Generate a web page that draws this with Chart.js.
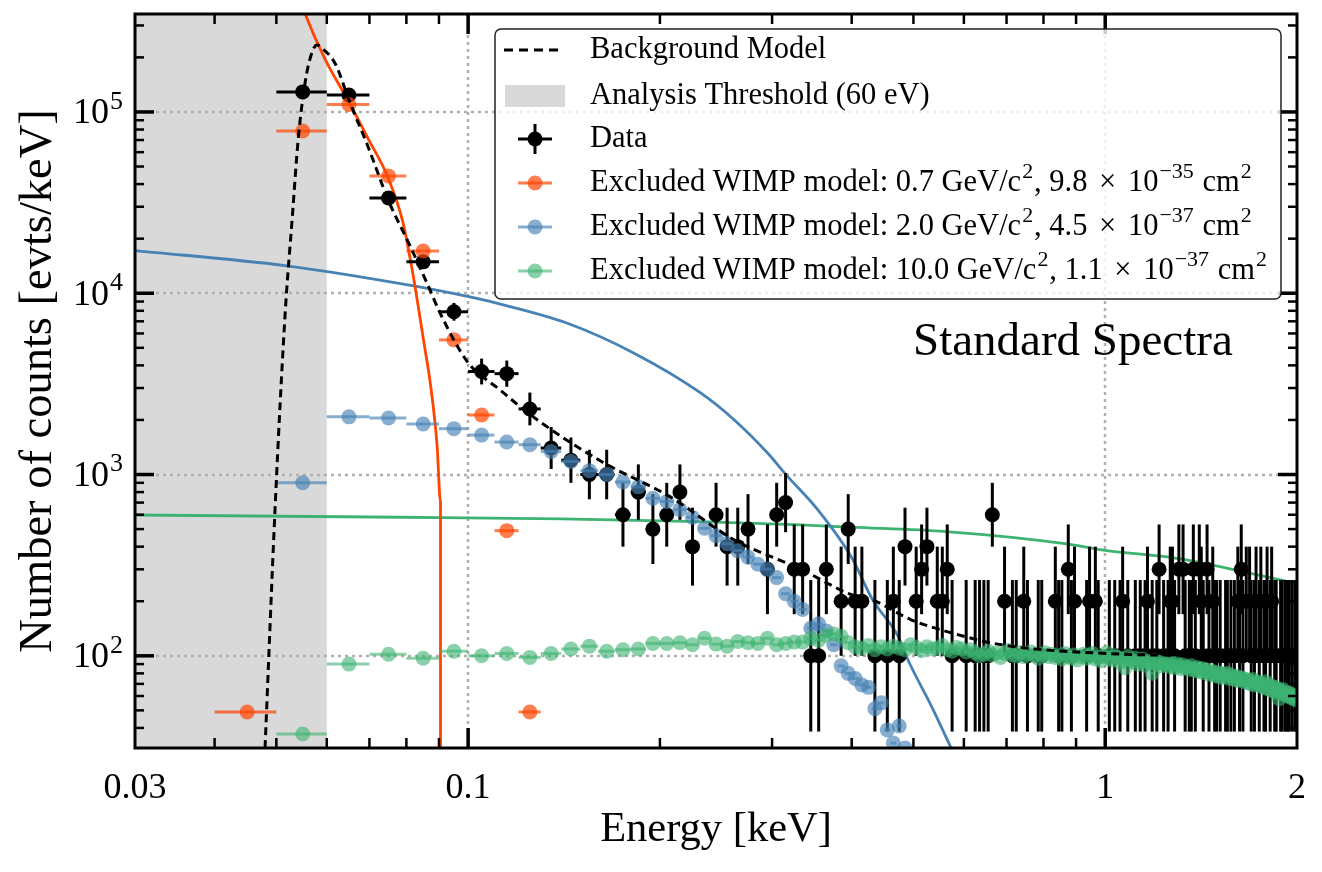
<!DOCTYPE html>
<html><head><meta charset="utf-8">
<script src="https://cdn.jsdelivr.net/npm/chart.js@4.4.1/dist/chart.umd.min.js"></script>
<style>html,body{margin:0;padding:0;background:#fff}canvas{display:block}</style>
</head><body>
<canvas id="c" width="1322" height="872"></canvas>
<script>
// ---------------- DATA ----------------
const binWidth = 0.01; // keV
const binCenters = [
0.045,0.055,0.065,0.075,0.085,0.095,0.105,0.115,0.125,0.135,
0.145,0.155,0.165,0.175,0.185,0.195,0.205,0.215,0.225,0.235,
0.245,0.255,0.265,0.275,0.285,0.295,0.305,0.315,0.325,0.335,
0.345,0.355,0.365,0.375,0.385,0.395,0.405,0.415,0.425,0.435,
0.445,0.455,0.465,0.475,0.485,0.495,0.505,0.515,0.525,0.535,
0.545,0.555,0.565,0.575,0.585,0.595,0.605,0.615,0.625,0.635,
0.645,0.655,0.665,0.675,0.685,0.695,0.705,0.715,0.725,0.735,
0.745,0.755,0.765,0.775,0.785,0.795,0.805,0.815,0.825,0.835,
0.845,0.855,0.865,0.875,0.885,0.895,0.905,0.915,0.925,0.935,
0.945,0.955,0.965,0.975,0.985,0.995,1.005,1.015,1.025,1.035,
1.045,1.055,1.065,1.075,1.085,1.095,1.105,1.115,1.125,1.135,
1.145,1.155,1.165,1.175,1.185,1.195,1.205,1.215,1.225,1.235,
1.245,1.255,1.265,1.275,1.285,1.295,1.305,1.315,1.325,1.335,
1.345,1.355,1.365,1.375,1.385,1.395,1.405,1.415,1.425,1.435,
1.445,1.455,1.465,1.475,1.485,1.495,1.505,1.515,1.525,1.535,
1.545,1.555,1.565,1.575,1.585,1.595,1.605,1.615,1.625,1.635,
1.645,1.655,1.665,1.675,1.685,1.695,1.705,1.715,1.725,1.735,
1.745,1.755,1.765,1.775,1.785,1.795,1.805,1.815,1.825,1.835,
1.845,1.855,1.865,1.875,1.885,1.895,1.905,1.915,1.925,1.935,
1.945,1.955,1.965,1.975,1.985,1.995];

// measured data [evts/keV] (null = empty bin)
const dataValues = [
null,129000,124000,33500,14900,7900,3700,3600,2300,1400,
1200,1000,1000,600,800,500,600,800,400,null,
600,400,400,500,null,300,600,700,300,300,
100,100,300,null,200,500,200,200,null,100,
null,100,200,100,400,null,200,300,400,null,
200,200,300,100,null,null,100,null,100,100,
100,100,600,null,null,200,null,100,100,null,
200,100,null,null,100,100,null,null,null,200,
100,100,null,300,100,200,null,null,null,100,
200,null,200,100,null,null,null,100,null,100,
null,100,200,null,100,null,null,100,null,100,
null,100,200,null,100,null,100,300,null,100,
null,100,200,200,100,null,300,null,300,100,
null,100,100,300,100,null,300,200,100,null,
300,100,null,200,100,100,null,100,null,null,
100,100,null,100,null,100,null,200,100,300,
100,null,200,null,200,100,null,100,200,null,
100,200,null,100,100,200,null,100,200,null,
100,100,null,null,100,100,null,100,100,100,
100,null,100,null,100,100];

// binned WIMP models [evts/keV]
const wimp07Values = [49,78500,110000,44300,17100,5530,2130,490,49];
const wimp20Values = [
null,900,2080,2050,1900,1790,1650,1510,1460,1340,
1180,1050,1000,910,855,740,710,640,580,505,
460,415,380,350,320,300,270,220,200,180,
142,150,137,115,88,80,75,69,67,51,
55,39,33,41,31,28];
const wimp10Values = [
null,37,90,102,97,106,100,103,98,103,
109,113,106,108,109,117,117,118,115,125,
116,113,120,118,117,125,115,117,119,119,
125,122,130,132,128,118,112,110,114,108,
112,109,113,110,108,115,111,107,112,109,
110,114,108,106,111,109,105,108,104,100,
102,106,101,104,98,103,107,101,100,104,
99,102,105,100,97,101,104,99,102,98,
100,96,103,99,97,101,95,99,102,97,
100,103,96,98,94,99,104,97,95,100,
98,92,96,86,99,95,93,97,90,94,
96,89,93,91,80,94,90,92,88,91,
89,92,87,90,86,91,88,85,89,86,
87,84,88,85,83,86,82,85,81,84,
82,79,83,80,78,81,77,80,76,79,
77,80,75,78,76,74,77,73,76,74,
75,72,74,71,73,70,74,69,72,70,
71,68,70,67,72,66,69,65,68,64,
67,63,66,58,64,62,65,61,63,60,
62,59,61,58,60,57];

// unbinned spectra
const bgE = [0.0480,0.0498,0.0516,0.0530,0.0541,0.0555,0.0567,0.0579,0.0589,0.0619,0.065,0.0697,0.075,0.0808,0.0862,0.0905,0.0997,0.1122,0.1264,0.1619,0.2073,0.2618,0.3344,0.3707,0.3948,0.4317,0.496,0.573,0.687,1.0,1.5,2.0];
const bgV = [31,680,7590,27000,70100,146400,206200,234200,225600,184000,116500,63900,32400,18700,11360,7690,4200,2930,2085,1180,755,435,298,246,221,203,158,134,115,103,100,98];
const red07E = [0.0540,0.0555,0.0597,0.065,0.0697,0.0748,0.0790,0.0817,0.0832,0.0851,0.0873,0.0894,0.0905,0.0905];
const red07V = [459000,347000,193600,113500,71000,43800,24700,13450,9180,5530,3120,1439,706,10];
const blue20E = [0.03,0.0516,0.0817,0.0997,0.1104,0.1432,0.1822,0.232,0.2617,0.2954,0.3157,0.354,0.3993,0.4317,0.473,0.487,0.496,0.534,0.573];
const blue20V = [17200,14200,11000,9600,8850,6830,4670,2810,2000,1310,995,638,352,203,128,100,87,52.5,31];
const green10E = [0.03,0.0785,0.1398,0.231,0.333,0.3993,0.563,0.870,0.987,1.294,1.417,1.99];
const green10V = [598,581,569,550,527,512,484,414,384,345,326,251];

const thresholdRange = [0.03, 0.06];

// axes
const xRange = [0.03, 2];
const yRange = [31, 347000];
const xTickValues = [0.03, 0.1, 1, 2];
const xTickText = ['0.03', '0.1', '1', '2'];
const xMinor = [0.04,0.05,0.06,0.07,0.08,0.09,0.2,0.3,0.4,0.5,0.6,0.7,0.8,0.9];
const xMajorMarks = [0.1, 1];
const yTickValues = [100, 1000, 10000, 100000];
const yTickExp = ['2', '3', '4', '5'];
const yMinor = [40,50,60,70,80,90,200,300,400,500,600,700,800,900,2000,3000,4000,5000,6000,7000,8000,9000,20000,30000,40000,50000,60000,70000,80000,90000,200000,300000];

const legendLabels = [
  'Background Model',
  'Analysis Threshold (60 eV)',
  'Data',
  'Excluded WIMP model: 0.7 GeV/c^{2}, 9.8 \u00d7 10^{\u221235} cm^{2}',
  'Excluded WIMP model: 2.0 GeV/c^{2}, 4.5 \u00d7 10^{\u221237} cm^{2}',
  'Excluded WIMP model: 10.0 GeV/c^{2}, 1.1 \u00d7 10^{\u221237} cm^{2}'
];
const annotationText = 'Standard Spectra';
const xTitle = 'Energy [keV]';
const yTitle = 'Number of counts [evts/keV]';

// ---------------- STYLE ----------------
const SERIF = '"Liberation Serif", "DejaVu Serif", serif';
const RED = '#ff4500', RED_A = 'rgba(255,69,0,0.7)';
const BLUE = '#4682b4', BLUE_A = 'rgba(70,130,180,0.65)';
const GREEN = '#3cb371', GREEN_A = 'rgba(60,179,113,0.6)';
const LEG_FONT = 30.5;

function pts(xs, ys) {
  const out = [];
  for (let i = 0; i < ys.length; i++) if (ys[i] !== null && ys[i] !== undefined) out.push({x: xs[i], y: ys[i]});
  return out;
}

function richSegments(str) {
  const segs = []; const re = /\^\{([^}]*)\}/g; let last = 0, m;
  while ((m = re.exec(str)) !== null) {
    if (m.index > last) segs.push({t: str.slice(last, m.index), sup: false});
    segs.push({t: m[1], sup: true}); last = re.lastIndex;
  }
  if (last < str.length) segs.push({t: str.slice(last), sup: false});
  return segs;
}
function drawRich(ctx, str, x, y, size) {
  let cx = x;
  for (const s of richSegments(str)) {
    if (s.sup) { ctx.font = (size * 0.72) + 'px ' + SERIF; ctx.fillText(s.t, cx + 1, y - size * 0.36); cx += ctx.measureText(s.t).width + 2; }
    else {
      ctx.font = size + 'px ' + SERIF;
      const parts = s.t.split('\u00d7');
      parts.forEach((p, k) => {
        ctx.fillText(p, cx, y); cx += ctx.measureText(p).width;
        if (k < parts.length - 1) { cx += 4; ctx.fillText('\u00d7', cx, y); cx += ctx.measureText('\u00d7').width + 4; }
      });
    }
  }
}

function seg(ctx, x1, y1, x2, y2) { ctx.beginPath(); ctx.moveTo(x1, y1); ctx.lineTo(x2, y2); ctx.stroke(); }

const fig = {
  id: 'fig',
  beforeDatasetsDraw(chart) {
    const {ctx, chartArea: a, scales: {x, y}} = chart;
    ctx.save();
    const x0 = x.getPixelForValue(thresholdRange[0]), x1 = x.getPixelForValue(thresholdRange[1]);
    ctx.fillStyle = '#d9d9d9';
    ctx.fillRect(x0, a.top, x1 - x0, a.bottom - a.top);
    ctx.strokeStyle = '#b0b0b0'; ctx.lineWidth = 2.5; ctx.setLineDash([3, 4]);
    for (const v of yTickValues) { const py = Math.round(y.getPixelForValue(v)); seg(ctx, a.left, py, a.right, py); }
    for (const v of xMajorMarks) { const px = Math.round(x.getPixelForValue(v)); seg(ctx, px, a.top, px, a.bottom); }
    ctx.restore();
  },
  beforeDatasetDraw(chart, args) {
    const ds = chart.data.datasets[args.index];
    if (!ds.errKind) return;
    const {ctx, chartArea: a, scales: {x, y}} = chart;
    ctx.save();
    ctx.beginPath(); ctx.rect(a.left, a.top, a.right - a.left, a.bottom - a.top); ctx.clip();
    ctx.strokeStyle = ds.errColor; ctx.lineWidth = 3; ctx.lineCap = 'butt';
    for (const p of ds.data) {
      const py = y.getPixelForValue(p.y);
      const xl = x.getPixelForValue(p.x - binWidth / 2), xr = x.getPixelForValue(p.x + binWidth / 2);
      seg(ctx, xl, py, xr, py);
      if (ds.errKind === 'xy') {
        const n = p.y * binWidth;
        const lo = (n + 0.5 - Math.sqrt(n + 0.25)) / binWidth;
        const hi = (n + 0.5 + Math.sqrt(n + 0.25)) / binWidth;
        const px = x.getPixelForValue(p.x);
        const ylo = lo > 0 ? y.getPixelForValue(lo) : a.bottom + 5;
        seg(ctx, px, ylo, px, y.getPixelForValue(hi));
      }
    }
    ctx.restore();
  },
  afterDatasetsDraw(chart) {
    const {ctx, chartArea: a, scales: {x, y}} = chart;
    ctx.save();
    // ticks (inside, all four sides)
    ctx.strokeStyle = '#000';
    const tick = (vals, len, w) => {
      ctx.lineWidth = w;
      for (const v of vals) {
        const px = x.getPixelForValue(v);
        seg(ctx, px, a.bottom, px, a.bottom - len); seg(ctx, px, a.top, px, a.top + len);
      }
    };
    tick(xMinor, 10, 2.5); tick(xMajorMarks, 20, 3.5);
    const ytick = (vals, len, w) => {
      ctx.lineWidth = w;
      for (const v of vals) {
        const py = y.getPixelForValue(v);
        seg(ctx, a.left, py, a.left + len, py); seg(ctx, a.right, py, a.right - len, py);
      }
    };
    ytick(yMinor, 9, 2.5); ytick(yTickValues, 19, 3.5);
    // frame
    ctx.lineWidth = 3; ctx.strokeRect(a.left, a.top, a.right - a.left, a.bottom - a.top);
    // y tick labels
    ctx.fillStyle = '#000'; ctx.textBaseline = 'middle'; ctx.textAlign = 'left';
    for (let i = 0; i < yTickValues.length; i++) {
      const py = y.getPixelForValue(yTickValues[i]);
      ctx.font = '36px ' + SERIF; const wb = ctx.measureText('10').width;
      ctx.font = '26px ' + SERIF; const we = ctx.measureText(yTickExp[i]).width;
      const x0 = a.left - 12 - wb - we - 1;
      ctx.font = '36px ' + SERIF; ctx.fillText('10', x0, py + 2);
      ctx.font = '26px ' + SERIF; ctx.fillText(yTickExp[i], x0 + wb + 1, py - 10);
    }
    // annotation
    ctx.font = '47px ' + SERIF; ctx.fillText(annotationText, 913, 343);
    // legend
    const L = {x: 495, y: 29, w: 786, h: 270};
    ctx.beginPath(); ctx.roundRect(L.x, L.y, L.w, L.h, 6);
    ctx.fillStyle = 'rgba(255,255,255,0.8)'; ctx.fill();
    ctx.strokeStyle = '#222'; ctx.lineWidth = 1.5; ctx.stroke();
    const rows = [50, 96, 139, 183, 227, 271];
    // symbols
    ctx.strokeStyle = '#000'; ctx.lineWidth = 3; ctx.setLineDash([9, 6]);
    seg(ctx, 504, rows[0], 564, rows[0]); ctx.setLineDash([]);
    ctx.fillStyle = '#d9d9d9'; ctx.fillRect(505, rows[1] - 11, 60, 22);
    ctx.strokeStyle = '#000'; ctx.lineWidth = 3;
    seg(ctx, 518, rows[2], 552, rows[2]); seg(ctx, 535, rows[2] - 15, 535, rows[2] + 15);
    ctx.fillStyle = '#000'; ctx.beginPath(); ctx.arc(535, rows[2], 7.5, 0, Math.PI * 2); ctx.fill();
    [[RED_A, rows[3]], [BLUE_A, rows[4]], [GREEN_A, rows[5]]].forEach(([c, ry]) => {
      ctx.strokeStyle = c; seg(ctx, 518, ry, 552, ry);
      ctx.fillStyle = c; ctx.beginPath(); ctx.arc(535, ry, 7.5, 0, Math.PI * 2); ctx.fill();
    });
    ctx.fillStyle = '#000'; ctx.textBaseline = 'middle';
    legendLabels.forEach((t, i) => drawRich(ctx, t, 590, rows[i], LEG_FONT));
    ctx.restore();
  }
};

const lineDS = (label, xs, ys, color, order, extra) => Object.assign({
  label, data: pts(xs, ys), showLine: true, borderColor: color, borderWidth: 2.8,
  pointRadius: 0, fill: false, cubicInterpolationMode: 'monotone', order
}, extra || {});
const dotDS = (label, ys, color, order, errKind) => ({
  label, data: pts(binCenters, ys), showLine: false, pointRadius: 7.5, pointHoverRadius: 7.5,
  backgroundColor: color, borderWidth: 0, order, errKind, errColor: color
});

new Chart(document.getElementById('c').getContext('2d'), {
  type: 'scatter',
  data: {datasets: [
    lineDS('Background Model', bgE, bgV, '#000', 0, {borderDash: [8, 5], borderWidth: 3}),
    dotDS('WIMP 10.0 GeV binned', wimp10Values, GREEN_A, 1, 'x'),
    dotDS('WIMP 2.0 GeV binned', wimp20Values, BLUE_A, 2, 'x'),
    dotDS('WIMP 0.7 GeV binned', wimp07Values, RED_A, 3, 'x'),
    Object.assign(dotDS('Data', dataValues, '#000', 4, 'xy'), {errColor: '#000'}),
    lineDS('WIMP 0.7 GeV spectrum', red07E, red07V, RED, 5),
    lineDS('WIMP 2.0 GeV spectrum', blue20E, blue20V, BLUE, 6),
    lineDS('WIMP 10.0 GeV spectrum', green10E, green10V, GREEN, 7)
  ]},
  options: {
    responsive: false, animation: false, events: [], devicePixelRatio: 1,
    layout: {padding: {top: 14, right: 25, left: 0, bottom: 0}},
    plugins: {legend: {display: false}, tooltip: {enabled: false}},
    scales: {
      x: {
        type: 'logarithmic', min: xRange[0], max: xRange[1], bounds: 'data', position: 'bottom',
        grid: {display: false}, border: {display: false},
        ticks: {autoSkip: false, maxRotation: 0, minRotation: 0, padding: 11, color: '#000',
          font: {family: SERIF, size: 36},
          callback: (v) => { const i = xTickValues.findIndex(t => Math.abs(t - v) < 1e-9); return i >= 0 ? xTickText[i] : ''; }},
        afterBuildTicks: (s) => { s.ticks = xTickValues.concat(xMinor).sort((a, b) => a - b).map(v => ({value: v})); },
        afterFit: (s) => { s.height = 124; s.paddingLeft = 0; s.paddingRight = 0; },
        title: {display: true, text: xTitle, color: '#000', font: {family: SERIF, size: 42.5}, padding: {top: 0, bottom: 17}}
      },
      y: {
        type: 'logarithmic', min: yRange[0], max: yRange[1], bounds: 'data',
        grid: {display: false}, border: {display: false},
        ticks: {display: false},
        afterBuildTicks: (s) => { s.ticks = yTickValues.concat(yMinor).sort((a, b) => a - b).map(v => ({value: v})); },
        afterFit: (s) => { s.width = 135; s.paddingTop = 0; s.paddingBottom = 0; },
        title: {display: true, text: yTitle, color: '#000', font: {family: SERIF, size: 46.5}, padding: {top: 11, bottom: 0}}
      }
    }
  },
  plugins: [fig]
});
</script>
</body></html>
